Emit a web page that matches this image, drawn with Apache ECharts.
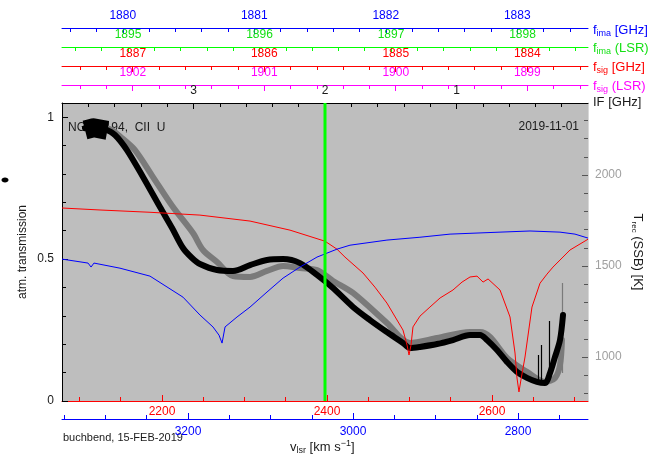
<!DOCTYPE html>
<html>
<head>
<meta charset="utf-8">
<script src="https://cdn.jsdelivr.net/npm/echarts@6/dist/echarts.min.js"></script>
<style>
  html, body { margin: 0; padding: 0; background: #ffffff; }
  #chart { width: 650px; height: 457px; }
</style>
</head>
<body>
<div id="chart"></div>
<script>
// ---- receiver tuning -------------------------------------------------------
const LO_GHZ = 1883.538;          // f_sig = LO + IF, f_ima = LO - IF
const LSR_SHIFT_SIG = 15.0;       // topocentric -> LSR (signal band)
const LSR_SHIFT_IMA = 14.96;      // topocentric -> LSR (image band)
const IF_RANGE = [0, 4];
const VSIG_RANGE = [2078.8, 2716.4];
const VIMA_RANGE = [2715.2, 3352.7];
const TRANS_RANGE = [0, 1.05];
const TREC_RANGE = [758, 2396];
const IF_MARKER = 2.0;

// ---- tick labels -----------------------------------------------------------
const ifLabels = [1, 2, 3];
const fSigLsrLabels = [1899, 1900, 1901, 1902];
const fSigLabels = [1884, 1885, 1886, 1887];
const fImaLsrLabels = [1895, 1896, 1897, 1898];
const fImaLabels = [1880, 1881, 1882, 1883];
const vSigLabels = [2200, 2400, 2600];
const vImaLabels = [2800, 3000, 3200];
const transLabels = [0, 0.5, 1];
const trecLabels = [1000, 1500, 2000];

// ---- atmospheric transmission (signal / image band) vs IF [GHz] ------------
const transSignal = [
  [4.000, 0.680], [3.711, 0.673], [3.331, 0.665], [2.951, 0.655], [2.570, 0.634],
  [2.266, 0.602], [2.000, 0.563], [1.909, 0.535], [1.848, 0.507], [1.711, 0.451],
  [1.620, 0.401], [1.529, 0.345], [1.407, 0.250], [1.376, 0.197], [1.361, 0.162],
  [1.346, 0.197], [1.331, 0.261], [1.278, 0.299], [1.202, 0.331], [1.125, 0.363],
  [1.027, 0.391], [0.958, 0.419], [0.897, 0.437], [0.844, 0.440], [0.798, 0.419],
  [0.760, 0.430], [0.669, 0.391], [0.593, 0.296], [0.555, 0.169], [0.540, 0.081],
  [0.525, 0.032], [0.510, 0.074], [0.479, 0.155], [0.426, 0.331], [0.365, 0.415],
  [0.312, 0.447], [0.266, 0.472], [0.137, 0.532], [0.000, 0.570]
];
const transImage = [
  [4.000, 0.500], [3.802, 0.486], [3.779, 0.472], [3.757, 0.486], [3.559, 0.468],
  [3.331, 0.440], [3.080, 0.366], [2.951, 0.303], [2.852, 0.261], [2.806, 0.232],
  [2.783, 0.204], [2.760, 0.261], [2.669, 0.296], [2.570, 0.331], [2.441, 0.384],
  [2.319, 0.433], [2.190, 0.472], [2.061, 0.507], [1.909, 0.535], [1.810, 0.549],
  [1.529, 0.567], [1.278, 0.577], [1.049, 0.588], [0.669, 0.595], [0.441, 0.599],
  [0.213, 0.595], [0.099, 0.588], [0.000, 0.574]
];

// ---- receiver temperature T_rec (SSB) [K] vs IF [GHz] ----------------------
const trecPix1 = [
  [3.825, 2258], [3.749, 2269], [3.673, 2253], [3.597, 2220], [3.506, 2137],
  [3.384, 1989], [3.255, 1824], [3.163, 1709], [3.080, 1599], [3.011, 1544],
  [2.951, 1511], [2.821, 1478], [2.700, 1473], [2.570, 1505], [2.441, 1533],
  [2.319, 1538], [2.190, 1516], [2.061, 1451], [1.939, 1379], [1.787, 1275],
  [1.658, 1203], [1.529, 1137], [1.407, 1077], [1.354, 1049], [1.278, 1055],
  [1.148, 1071], [1.027, 1093], [0.897, 1121], [0.821, 1121], [0.768, 1093],
  [0.692, 1038], [0.616, 973], [0.540, 918], [0.464, 885], [0.388, 863],
  [0.327, 857], [0.289, 912], [0.251, 1000], [0.213, 1093], [0.190, 1231]
];
// very noisy first channels of pixel 1 (broad scatter around the mean)
const trecPix1Edge = [[3.825, 2248], [3.760, 2260], [3.655, 2246]];
const trecPix2 = [
  [3.802, 2280], [3.711, 2269], [3.620, 2247], [3.544, 2203], [3.445, 2137],
  [3.308, 1989], [3.156, 1824], [3.004, 1681], [2.928, 1588], [2.821, 1522],
  [2.700, 1445], [2.570, 1440], [2.441, 1473], [2.319, 1500], [2.190, 1489],
  [2.061, 1478], [1.939, 1418], [1.787, 1352], [1.529, 1187], [1.354, 1077],
  [1.148, 1104], [0.897, 1137], [0.821, 1137], [0.745, 1110], [0.616, 995],
  [0.464, 918], [0.327, 863], [0.251, 885], [0.213, 956], [0.198, 1093]
];
// narrow spurious channels: [IF, base K, peak K]
const spikesPix1 = [[0.380, 863, 1011], [0.357, 863, 1066], [0.297, 874, 1198]];
const spikesPix2 = [[0.198, 912, 1407]];

// ---- styling helpers -------------------------------------------------------
const FONT = "'Liberation Sans', Arial, Helvetica, sans-serif";
const BLUE = '#0000ff', GREEN = '#00ff00', RED = '#ff0000', MAGENTA = '#ff00ff';
const INK = '#1a1a1a';

function stepValues(min, max, step) {
  const out = [];
  const start = Math.ceil(min / step - 1e-9);
  for (let k = start; k * step <= max + 1e-9; k++) {
    const v = +(k * step).toFixed(6);
    if (v > min + 1e-6 && v < max - 1e-6) out.push(v);
  }
  return out;
}

const plainNumber = v => String(+v.toFixed(4));

// one axis with line, labels and long ticks, plus an overlay with short ticks
function axisPair(base, color, labelColor, labels, major, minorStep, margin) {
  const main = Object.assign({ type: 'value', gridIndex: 0 }, base, {
    axisLine: { show: true, onZero: false, lineStyle: { color: color, width: 1 } },
    axisTick: { show: true, inside: true, length: 6, customValues: major, lineStyle: { color: color, width: 1 } },
    axisLabel: { show: true, customValues: labels, color: labelColor, fontSize: 12, fontFamily: FONT,
      margin: margin, formatter: plainNumber },
    splitLine: { show: false }
  });
  const over = Object.assign({ type: 'value', gridIndex: 0 }, base, {
    axisLine: { show: false, onZero: false },
    axisTick: { show: true, inside: true, length: 4,
      customValues: stepValues(base.min, base.max, minorStep), lineStyle: { color: color, width: 1 } },
    axisLabel: { show: false },
    splitLine: { show: false }
  });
  return [main, over];
}

const xAxes = [].concat(
  axisPair({ position: 'top', offset: 0, min: IF_RANGE[0], max: IF_RANGE[1], inverse: true },
    '#000000', INK, ifLabels, ifLabels, 0.2, 6),
  axisPair({ position: 'top', offset: 18, min: LO_GHZ + LSR_SHIFT_SIG + IF_RANGE[0], max: LO_GHZ + LSR_SHIFT_SIG + IF_RANGE[1], inverse: true },
    MAGENTA, MAGENTA, fSigLsrLabels, fSigLsrLabels, 0.2, 6),
  axisPair({ position: 'top', offset: 37, min: LO_GHZ + IF_RANGE[0], max: LO_GHZ + IF_RANGE[1], inverse: true },
    RED, RED, fSigLabels, fSigLabels, 0.2, 6),
  axisPair({ position: 'top', offset: 56, min: LO_GHZ + LSR_SHIFT_IMA - IF_RANGE[1], max: LO_GHZ + LSR_SHIFT_IMA - IF_RANGE[0] },
    GREEN, '#14e014', fImaLsrLabels, fImaLsrLabels, 0.2, 6),
  axisPair({ position: 'top', offset: 75, min: LO_GHZ - IF_RANGE[1], max: LO_GHZ - IF_RANGE[0] },
    BLUE, BLUE, fImaLabels, fImaLabels, 0.2, 6),
  axisPair({ position: 'bottom', offset: 0, min: VSIG_RANGE[0], max: VSIG_RANGE[1] },
    RED, RED, vSigLabels, vSigLabels, 50, 5),
  axisPair({ position: 'bottom', offset: 18, min: VIMA_RANGE[0], max: VIMA_RANGE[1], inverse: true },
    BLUE, BLUE, vImaLabels, vImaLabels, 50, 7)
);

const yLeft = axisPair({ position: 'left', min: TRANS_RANGE[0], max: TRANS_RANGE[1] },
  '#000000', INK, transLabels, transLabels, 0.1, 8);
const yRight = axisPair({ position: 'right', min: TREC_RANGE[0], max: TREC_RANGE[1] },
  '#555555', '#a0a0a0', trecLabels, trecLabels, 100, 7);
yRight[0].axisLine.lineStyle.color = '#d8d8d8';
const yAxes = [yLeft[0], yRight[0], yLeft[1], yRight[1]];

function spikeLines(list) {
  return list.map(s => ({ coords: [[s[0], s[1]], [s[0], s[2]]] }));
}

function legendText(y, color, sub, rest) {
  return {
    type: 'text', x: 593, y: y,
    style: {
      text: '{m|f}{s|' + sub + '}{m| ' + rest + '}',
      verticalAlign: 'middle',
      rich: {
        m: { fontSize: 13, fontFamily: FONT, fill: color, lineHeight: 16 },
        s: { fontSize: 9, fontFamily: FONT, fill: color, lineHeight: 8, verticalAlign: 'bottom' }
      }
    }
  };
}

const chart = echarts.init(document.getElementById('chart'), null, { renderer: 'canvas' });
chart.setOption({
  animation: false,
  backgroundColor: '#ffffff',
  grid: { left: 62, right: 62, top: 103, bottom: 56, show: true,
    backgroundColor: '#bebebe', borderWidth: 0, containLabel: false },
  xAxis: xAxes,
  yAxis: yAxes,
  series: [
    { name: 'T_rec pixel 2', type: 'line', xAxisIndex: 0, yAxisIndex: 1, data: trecPix2,
      showSymbol: false, symbol: 'none', z: 2, smooth: 0.3,
      lineStyle: { color: '#7a7a7a', width: 6, join: 'round', cap: 'round' } },
    { name: 'spikes pixel 2', type: 'lines', coordinateSystem: 'cartesian2d', xAxisIndex: 0, yAxisIndex: 1,
      data: spikeLines(spikesPix2), z: 2,
      lineStyle: { color: '#7a7a7a', width: 1.2, opacity: 1 } },
    { name: 'T_rec pixel 1', type: 'line', xAxisIndex: 0, yAxisIndex: 1, data: trecPix1,
      showSymbol: false, symbol: 'none', z: 3, smooth: 0.3,
      lineStyle: { color: '#000000', width: 6, join: 'round', cap: 'round' } },
    { name: 'T_rec pixel 1 edge scatter', type: 'line', xAxisIndex: 0, yAxisIndex: 1, data: trecPix1Edge,
      showSymbol: false, symbol: 'none', z: 3, smooth: false,
      lineStyle: { color: '#000000', width: 19, join: 'round', cap: 'butt' } },
    { name: 'spikes pixel 1', type: 'lines', coordinateSystem: 'cartesian2d', xAxisIndex: 0, yAxisIndex: 1,
      data: spikeLines(spikesPix1), z: 3,
      lineStyle: { color: '#000000', width: 1.2, opacity: 1 } },
    { name: 'transmission signal', type: 'line', xAxisIndex: 0, yAxisIndex: 0, data: transSignal,
      showSymbol: false, symbol: 'none', z: 4,
      lineStyle: { color: RED, width: 1 } },
    { name: 'transmission image', type: 'line', xAxisIndex: 0, yAxisIndex: 0, data: transImage,
      showSymbol: false, symbol: 'none', z: 4,
      lineStyle: { color: BLUE, width: 1 } },
    { name: 'IF marker', type: 'line', xAxisIndex: 0, yAxisIndex: 0,
      data: [[IF_MARKER, TRANS_RANGE[0]], [IF_MARKER, TRANS_RANGE[1]]],
      showSymbol: false, symbol: 'none', z: 5,
      lineStyle: { color: GREEN, width: 3 } }
  ],
  graphic: [
    { type: 'text', x: 68, y: 128, z: 1,
      style: { text: 'NGC 4194,  CII  U', fill: INK, font: '12px ' + FONT, verticalAlign: 'middle' } },
    { type: 'text', x: 579, y: 127, z: 1,
      style: { text: '2019-11-01', fill: INK, font: '12px ' + FONT, align: 'right', verticalAlign: 'middle' } },
    { type: 'text', x: 23, y: 252, rotation: Math.PI / 2,
      style: { text: 'atm. transmission', fill: INK, font: '12px ' + FONT, align: 'center', verticalAlign: 'middle' } },
    { type: 'text', x: 638, y: 252, rotation: -Math.PI / 2,
      style: {
        text: '{m|T}{s|rec}{m| (SSB) [K]}', align: 'center', verticalAlign: 'middle',
        rich: {
          m: { fontSize: 13, fontFamily: FONT, fill: INK, lineHeight: 16 },
          s: { fontSize: 8, fontFamily: FONT, fill: INK, lineHeight: 8, verticalAlign: 'bottom' }
        }
      } },
    legendText(30, BLUE, 'ima', '[GHz]'),
    legendText(48, '#14e014', 'ima', '(LSR)'),
    legendText(67, RED, 'sig', '[GHz]'),
    legendText(86, MAGENTA, 'sig', '(LSR)'),
    { type: 'text', x: 593, y: 102,
      style: { text: 'IF [GHz]', fill: INK, font: '13px ' + FONT, verticalAlign: 'middle' } },
    { type: 'text', x: 63, y: 438,
      style: { text: 'buchbend, 15-FEB-2019', fill: INK, font: '11px ' + FONT, verticalAlign: 'middle' } },
    { type: 'text', x: 290, y: 447,
      style: {
        text: '{m|v}{s|lsr}{m| [km s}{p|\u22121}{m|]}', verticalAlign: 'middle',
        rich: {
          m: { fontSize: 13, fontFamily: FONT, fill: INK, lineHeight: 16 },
          s: { fontSize: 9, fontFamily: FONT, fill: INK, lineHeight: 8, verticalAlign: 'bottom' },
          p: { fontSize: 9, fontFamily: FONT, fill: INK, lineHeight: 8, verticalAlign: 'top' }
        }
      } },
    { type: 'ellipse', shape: { cx: 5, cy: 180, rx: 3.5, ry: 2.5 },
      style: { fill: '#000000' } }
  ]
});
</script>
</body>
</html>
